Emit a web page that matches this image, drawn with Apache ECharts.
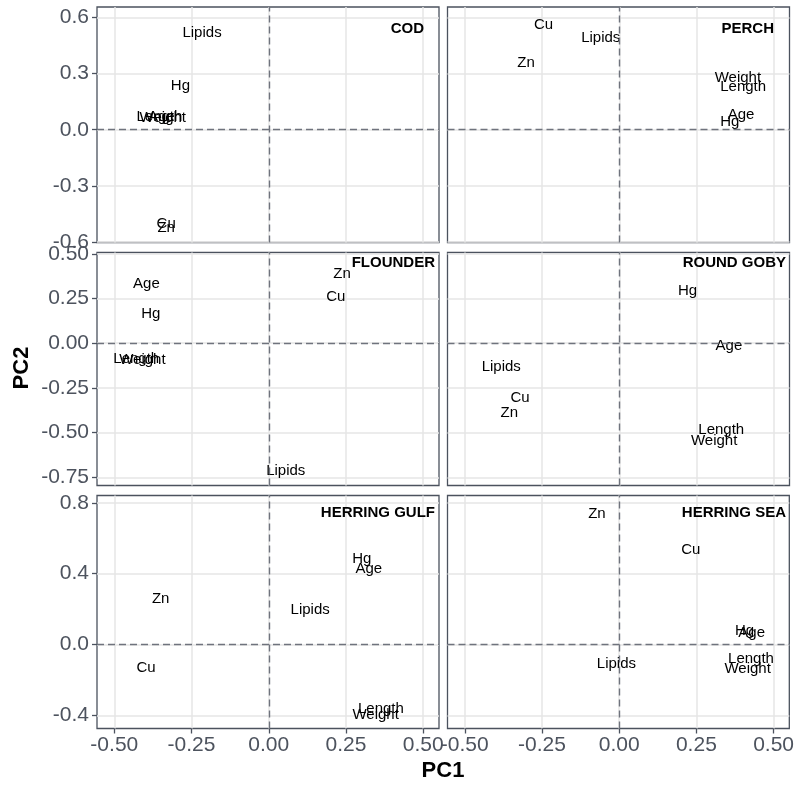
<!DOCTYPE html>
<html><head><meta charset="utf-8">
<script src="https://cdn.jsdelivr.net/npm/echarts@6/dist/echarts.min.js"></script>
<style>html,body{margin:0;padding:0;background:#fff}#c{width:797px;height:785px}</style>
</head><body><div id="c"></div>
<script>
// ---- data ----
const variables = ['Length','Weight','Age','Hg','Lipids','Cu','Zn'];
const species = ['COD','PERCH','FLOUNDER','ROUND GOBY','HERRING GULF','HERRING SEA'];
const codPC1      = [-0.354,-0.343,-0.348,-0.286,-0.216,-0.332,-0.332];
const codPC2      = [ 0.070, 0.065, 0.068, 0.232, 0.517,-0.503,-0.522];
const perchPC1    = [ 0.401, 0.384, 0.394, 0.358,-0.060,-0.245,-0.302];
const perchPC2    = [ 0.228, 0.276, 0.080, 0.044, 0.490, 0.561, 0.357];
const flounderPC1 = [-0.429,-0.409,-0.396,-0.382, 0.055, 0.217, 0.237];
const flounderPC2 = [-0.090,-0.092, 0.334, 0.166,-0.713, 0.259, 0.390];
const gobyPC1     = [ 0.330, 0.307, 0.355, 0.221,-0.382,-0.321,-0.356];
const gobyPC2     = [-0.485,-0.547,-0.016, 0.293,-0.132,-0.308,-0.389];
const gulfPC1     = [ 0.363, 0.346, 0.324, 0.301, 0.134,-0.397,-0.350];
const gulfPC2     = [-0.361,-0.398, 0.429, 0.486, 0.198,-0.131, 0.260];
const seaPC1      = [ 0.427, 0.416, 0.429, 0.406,-0.009, 0.232,-0.072];
const seaPC2      = [-0.082,-0.135, 0.066, 0.078,-0.107, 0.533, 0.740];

const xTicks = [-0.5,-0.25,0,0.25,0.5];
const xTickLabels = ['-0.50','-0.25','0.00','0.25','0.50'];
const yTicksRow1 = [-0.6,-0.3,0,0.3,0.6];
const yTickLabelsRow1 = ['-0.6','-0.3','0.0','0.3','0.6'];
const yTicksRow2 = [-0.75,-0.5,-0.25,0,0.25,0.5];
const yTickLabelsRow2 = ['-0.75','-0.50','-0.25','0.00','0.25','0.50'];
const yTicksRow3 = [-0.4,0,0.4,0.8];
const yTickLabelsRow3 = ['-0.4','0.0','0.4','0.8'];
const xLimits = [-0.556, 0.551];
const yLimitsRow = [[-0.602,0.655],[-0.796,0.507],[-0.474,0.841]];

// ---- build ----
const pcs = [[codPC1,codPC2],[perchPC1,perchPC2],[flounderPC1,flounderPC2],[gobyPC1,gobyPC2],[gulfPC1,gulfPC2],[seaPC1,seaPC2]];
const yTicksByRow = [yTicksRow1,yTicksRow2,yTicksRow3];
const yLabelsByRow = [yTickLabelsRow1,yTickLabelsRow2,yTickLabelsRow3];

const FONT = "'Liberation Sans', Arial, Helvetica, sans-serif";
const AX = '#4b525e';
const colLeft = [97, 447.5];
const panelW = 342;
const rowTop = [7, 252.5, 495.5];
const rowH = [235.5, 233, 233];

const grids = [], xAxes = [], yAxes = [], series = [], graphics = [];
for (let i = 0; i < 6; i++) {
  const r = Math.floor(i/2), c = i % 2;
  grids.push({left: colLeft[c], top: rowTop[r], width: panelW, height: rowH[r],
    show: true, borderColor: AX, borderWidth: 1.3, backgroundColor: 'transparent', containLabel: false});
  const bottomRow = r === 2;
  xAxes.push({type: 'value', gridIndex: i, position: 'bottom', min: xLimits[0], max: xLimits[1],
    axisLine: {show: false, onZero: false},
    axisTick: {show: bottomRow, customValues: xTicks, length: 5, lineStyle: {color: AX, width: 1.3}},
    axisLabel: {show: bottomRow, customValues: xTicks, margin: 6, color: '#4d535e', fontSize: 21, fontFamily: FONT,
      formatter: v => { const k = xTicks.findIndex(t => Math.abs(t - v) < 1e-9); return k >= 0 ? xTickLabels[k] : ''; }},
    splitLine: {show: true, lineStyle: {color: '#e6e6e6', width: 1.5}}
  });
  const yt = yTicksByRow[r], yl = yLabelsByRow[r];
  yAxes.push({type: 'value', gridIndex: i, position: 'left', min: yLimitsRow[r][0], max: yLimitsRow[r][1],
    axisLine: {show: false, onZero: false},
    axisTick: {show: c === 0, customValues: yt, length: 5, lineStyle: {color: AX, width: 1.3}},
    axisLabel: {show: c === 0, customValues: yt, margin: 8, color: '#4d535e', fontSize: 21, fontFamily: FONT,
      showMinLabel: true, showMaxLabel: true,
      formatter: v => { const k = yt.findIndex(t => Math.abs(t - v) < 1e-9); return k >= 0 ? yl[k] : ''; }},
    splitLine: {show: true, lineStyle: {color: '#e6e6e6', width: 1.5}}
  });
  const [p1, p2] = pcs[i];
  series.push({
    type: 'scatter', xAxisIndex: i, yAxisIndex: i, symbolSize: 1,
    itemStyle: {color: 'rgba(0,0,0,0)'},
    data: variables.map((v, j) => ({name: v, value: [p1[j], p2[j]]})),
    label: {show: true, position: 'inside', formatter: '{b}', color: '#000', fontSize: 15, fontFamily: FONT,
      align: 'center', verticalAlign: 'middle', textBorderWidth: 0, opacity: 1},
    emphasis: {disabled: true},
    markLine: {silent: true, symbol: ['none','none'], animation: false, label: {show: false},
      lineStyle: {type: [7,4], color: '#6f737d', width: 1.4},
      data: [{xAxis: 0}, {yAxis: 0}]},
    z: 3
  });
}
// facet labels
const facetRight = [424, 774, 435, 786, 435, 786];
const facetY = [29, 29, 263, 263, 513, 513];
species.forEach((s, i) => {
  graphics.push({type: 'text', x: facetRight[i], y: facetY[i], z: 100,
    style: {text: s, fill: '#000', font: "bold 15px " + FONT, textAlign: 'right', textVerticalAlign: 'middle'}});
});
graphics.push({type: 'text', x: 443, y: 771, z: 100,
  style: {text: 'PC1', fill: '#000', font: "bold 22px " + FONT, textAlign: 'center', textVerticalAlign: 'middle'}});
graphics.push({type: 'text', x: 22, y: 368, rotation: Math.PI/2, z: 100,
  style: {text: 'PC2', fill: '#000', font: "bold 22px " + FONT, textAlign: 'center', textVerticalAlign: 'middle'}});

const chart = echarts.init(document.getElementById('c'), null, {renderer: 'canvas'});
chart.setOption({
  animation: false,
  backgroundColor: '#fff',
  grid: grids, xAxis: xAxes, yAxis: yAxes, series: series, graphic: graphics
});
</script></body></html>
